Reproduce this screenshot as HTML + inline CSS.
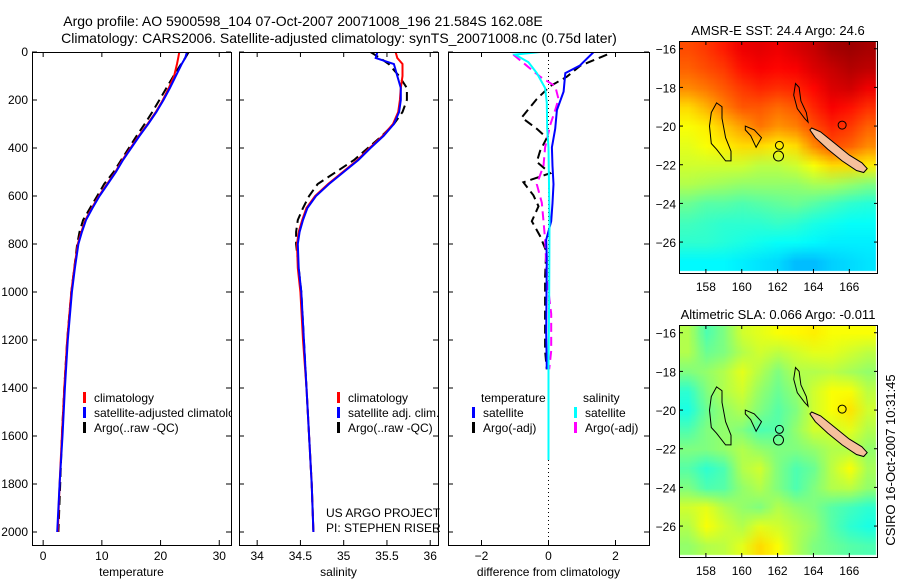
<!DOCTYPE html>
<html><head><meta charset="utf-8">
<style>
html,body{margin:0;padding:0;background:#fff;}
svg{display:block;font-family:"Liberation Sans",sans-serif;}
canvas{position:absolute;}
#wrap{position:relative;width:900px;height:580px;overflow:hidden;}
</style></head>
<body>
<div id="wrap">
<canvas id="sstCanvas" width="199" height="232" style="left:679px;top:41px;width:199px;height:232px"></canvas>
<canvas id="slaCanvas" width="199" height="232" style="left:679px;top:325px;width:199px;height:232px"></canvas>
<svg id="fig" width="900" height="580" style="position:absolute;left:0;top:0"></svg>
</div>
<script>
// ---- profile data ----
const depths = [0,25,50,100,150,200,250,300,350,400,450,500,550,600,650,700,750,800,900,1000,1200,1400,1600,1800,2000];
const tempClim = [23.2,23.0,22.8,22.3,21.4,20.4,19.2,17.8,16.3,14.9,13.5,12.3,10.9,9.5,8.3,7.2,6.5,5.9,5.3,4.8,4.1,3.6,3.2,2.8,2.5];
const tempSat  = [24.5,24.2,23.6,22.6,21.6,20.5,19.3,17.9,16.4,15.0,13.6,12.4,11.0,9.6,8.4,7.3,6.6,6.0,5.4,4.9,4.2,3.7,3.3,2.8,2.4];
const tempArgo = [24.8,24.2,23.5,22.2,21.0,19.8,18.6,17.3,15.9,14.6,13.3,12.0,10.4,9.2,8.0,6.8,6.2,5.8,5.3,4.8,4.1,3.6,3.2,2.9,2.6];
const salClim = [35.60,35.62,35.68,35.68,35.66,35.65,35.63,35.57,35.45,35.30,35.16,34.99,34.82,34.67,34.57,34.52,34.48,34.46,34.47,34.50,34.53,34.57,34.60,34.63,34.65];
const salSat  = [35.39,35.37,35.58,35.62,35.66,35.66,35.64,35.58,35.46,35.31,35.17,35.00,34.83,34.68,34.58,34.53,34.49,34.47,34.48,34.51,34.54,34.57,34.60,34.63,34.65];
const salArgo = [35.31,35.42,35.52,35.64,35.73,35.73,35.68,35.58,35.44,35.28,35.12,34.91,34.70,34.60,34.53,34.47,34.45,34.45,34.48,34.51,34.54,34.57,34.60,34.63,34.65];
// differences from climatology
const dTempDepth = [0,57,88,165,242,320,397,475,551,630,705,782,860,1000,1170,1322];
const dTempSat   = [1.35,0.93,0.5,0.45,0.25,0.2,0.1,0.12,0.15,0.12,0.08,-0.07,-0.05,-0.06,-0.07,-0.05];
const dTempArgoDepth = [11,57,103,142,196,273,320,358,412,458,505,543,597,643,705,767,829,937,1091,1245,1322];
const dTempArgo = [1.75,0.95,0.55,0.05,-0.35,-0.8,-0.35,-0.05,-0.25,-0.35,0.05,-0.75,-0.45,-0.3,-0.5,-0.25,-0.07,-0.1,-0.1,-0.1,-0.05];
const dSalArgoDepth = [11,57,103,142,196,242,304,397,474,551,628,705,782,937,1091,1245,1322];
const dSalArgo = [-1.05,-0.65,-0.25,0.2,0.3,0.2,0.05,-0.1,-0.15,-0.35,-0.2,-0.15,-0.1,-0.05,0.08,0.08,0.02];
const dSalSatDepth = [0,11,42,88,150,211,320,397,705,1000,1322,1700];
const dSalSat = [-0.25,-1.0,-0.6,-0.35,-0.1,-0.05,-0.04,0.0,0.03,0.02,0.0,0.0];
// ---- map data (normalised colour index 0..1, rows lat -16..-27, cols lon 157..167) ----
const mapLons = [157,158,159,160,161,162,163,164,165,166,167];
const mapLats = [-16,-17,-18,-19,-20,-21,-22,-23,-24,-25,-26,-27];
const sstVals = [
[0.80,0.82,0.85,0.89,0.90,0.89,0.91,0.93,0.96,0.97,0.96],
[0.78,0.80,0.82,0.86,0.88,0.87,0.88,0.91,0.93,0.95,0.94],
[0.74,0.76,0.79,0.82,0.84,0.83,0.84,0.87,0.91,0.92,0.89],
[0.66,0.70,0.75,0.79,0.79,0.77,0.79,0.84,0.88,0.86,0.83],
[0.62,0.64,0.68,0.72,0.76,0.73,0.75,0.80,0.84,0.82,0.78],
[0.60,0.62,0.64,0.66,0.66,0.64,0.66,0.74,0.80,0.78,0.74],
[0.58,0.58,0.58,0.58,0.56,0.56,0.58,0.62,0.66,0.66,0.64],
[0.55,0.54,0.53,0.52,0.52,0.52,0.52,0.54,0.54,0.52,0.50],
[0.48,0.46,0.46,0.45,0.46,0.47,0.48,0.46,0.44,0.42,0.41],
[0.44,0.43,0.42,0.42,0.42,0.43,0.42,0.40,0.39,0.38,0.38],
[0.42,0.42,0.41,0.40,0.39,0.38,0.38,0.37,0.36,0.36,0.36],
[0.37,0.37,0.37,0.36,0.35,0.34,0.31,0.31,0.33,0.34,0.35]];
const slaVals = [
[0.55,0.45,0.50,0.58,0.60,0.62,0.63,0.64,0.62,0.62,0.62],
[0.55,0.48,0.50,0.55,0.58,0.56,0.58,0.60,0.60,0.58,0.56],
[0.50,0.52,0.55,0.60,0.55,0.50,0.55,0.55,0.56,0.54,0.52],
[0.42,0.50,0.55,0.58,0.52,0.48,0.52,0.58,0.62,0.62,0.56],
[0.40,0.48,0.52,0.55,0.50,0.46,0.50,0.58,0.62,0.65,0.58],
[0.45,0.50,0.52,0.50,0.45,0.46,0.52,0.58,0.58,0.60,0.55],
[0.50,0.50,0.52,0.55,0.52,0.50,0.50,0.52,0.55,0.55,0.52],
[0.46,0.42,0.45,0.55,0.58,0.50,0.45,0.48,0.56,0.62,0.54],
[0.50,0.45,0.46,0.52,0.55,0.50,0.45,0.50,0.55,0.56,0.52],
[0.58,0.60,0.55,0.52,0.50,0.55,0.52,0.50,0.46,0.44,0.42],
[0.55,0.62,0.58,0.55,0.60,0.58,0.55,0.52,0.46,0.42,0.40],
[0.52,0.55,0.56,0.60,0.66,0.62,0.55,0.50,0.48,0.46,0.45]];
const tempTicks = [0,10,20,30];
const salTicks = [34,34.5,35,35.5,36];
const diffTicks = [-2,0,2];
const depthTicks = [0,200,400,600,800,1000,1200,1400,1600,1800,2000];
const lonTicks = [158,160,162,164,166];
const latTicks = [-16,-18,-20,-22,-24,-26];

const NS='http://www.w3.org/2000/svg';
const svg=document.getElementById('fig');
function el(tag,attrs,parent){const e=document.createElementNS(NS,tag);for(const k in attrs)e.setAttribute(k,attrs[k]);(parent||svg).appendChild(e);return e;}
function txt(s,x,y,anchor,size,parent){const t=el('text',{x:x,y:y,'text-anchor':anchor||'start','font-size':size||12,fill:'#000'},parent);t.textContent=s;return t;}

const yD=d=>52+d*0.24;
const panels=[
 {x0:32,x1:231,lo:-1.9,hi:32.0,ticks:tempTicks,label:'temperature',name:'temperature'},
 {x0:239,x1:438,lo:33.79,hi:36.09,ticks:salTicks,label:'salinity',name:'salinity'},
 {x0:448,x1:649,lo:-3,hi:3,ticks:diffTicks,label:'difference from climatology',name:'difference'}];
panels.forEach(p=>{p.sx=v=>p.x0+(v-p.lo)/(p.hi-p.lo)*(p.x1-p.x0);});

function line(p,ds,vs,color,dash,name){
  let d='';ds.forEach((dep,i)=>{if(vs[i]==null)return;d+=(d?'L':'M')+p.sx(vs[i]).toFixed(1)+','+yD(dep).toFixed(1);});
  const a={d:d,fill:'none',stroke:color,'stroke-width':2};if(dash)a['stroke-dasharray']=dash;
  const e=el('path',a,p.g);
  
  
}

panels.forEach((p,pi)=>{
  const g=el('g',{});
  
  
  p.g=g;
  const cp=el('clipPath',{id:'cp'+pi},g);el('rect',{x:p.x0,y:52,width:p.x1-p.x0,height:493},cp);
  p.clip=el('g',{'clip-path':'url(#cp'+pi+')'},g);
  el('rect',{x:p.x0+0.5,y:52.5,width:p.x1-p.x0,height:493,fill:'none',stroke:'#000','stroke-width':1},g);
  p.ticks.forEach(t=>{const x=p.sx(t);
    el('line',{x1:x,x2:x,y1:52,y2:57,stroke:'#000'},g);
    el('line',{x1:x,x2:x,y1:545,y2:540,stroke:'#000'},g);
    const lab=txt(String(t).replace('-','\u2212'),x,560,'middle',12,g);
    });
  depthTicks.forEach(d=>{const y=yD(d);
    el('line',{x1:p.x0,x2:p.x0+5,y1:y,y2:y,stroke:'#000'},g);
    el('line',{x1:p.x1,x2:p.x1-5,y1:y,y2:y,stroke:'#000'},g);
    if(pi==0){const lab=txt(String(d),28,y+4,'end',12,g);}});
  const xl=txt(p.label,(p.x0+p.x1)/2,576,'middle',12,g);
  
});
// series
let P=panels[0];P.g=P.clip;
line(P,depths,tempArgo,'#000','9,5','argo-temperature');
line(P,depths,tempClim,'#f00',null,'clim-temperature');
line(P,depths,tempSat,'#00f',null,'sat-temperature');
P=panels[1];P.g=P.clip;
line(P,depths,salArgo,'#000','9,5','argo-salinity');
line(P,depths,salClim,'#f00',null,'clim-salinity');
line(P,depths,salSat,'#00f',null,'sat-salinity');
P=panels[2];P.g=P.clip;
el('line',{x1:P.sx(0),x2:P.sx(0),y1:52,y2:545,stroke:'#000','stroke-dasharray':'1,3'},P.clip);
line(P,dTempArgoDepth,dTempArgo,'#000','9,5','argo-temp-diff');
line(P,dSalArgoDepth,dSalArgo,'#f0f','9,5','argo-sal-diff');
line(P,dTempDepth,dTempSat,'#00f',null,'sat-temp-diff');
line(P,dSalSatDepth,dSalSat,'#0ff',null,'sat-sal-diff');

// legends
function legend(x,y,color,label,parent,name){
  el('rect',{x:x,y:y-10,width:3,height:11,fill:color},parent);
  const t=txt(label,x+11,y,'start',12,parent);
  
}
let lg=el('g',{'clip-path':'url(#cp0)'});

legend(83,402,'#f00','climatology',lg,'legend-climatology');
legend(83,417,'#00f','satellite-adjusted climatology',lg,'legend-satellite-adjusted');
legend(83,432,'#000','Argo(..raw -QC)',lg,'legend-argo');
lg=el('g',{});

legend(337,402,'#f00','climatology',lg,'legend-climatology');
legend(337,417,'#00f','satellite adj. clim.',lg,'legend-satellite-adj');
legend(337,432,'#000','Argo(..raw -QC)',lg,'legend-argo');
let t1=txt('US ARGO PROJECT',326,517,'start',12);
t1=txt('PI: STEPHEN RISER',326,532,'start',12);
lg=el('g',{});

t1=txt('temperature',481,402,'start',12,lg);
legend(472,417,'#00f','satellite',lg,'legend-temp-satellite');
legend(472,432,'#000','Argo(-adj)',lg,'legend-temp-argo');
t1=txt('salinity',583,402,'start',12,lg);
legend(574,417,'#0ff','satellite',lg,'legend-sal-satellite');
legend(574,432,'#f0f','Argo(-adj)',lg,'legend-sal-argo');

// titles
t1=txt('Argo profile: AO 5900598_104 07-Oct-2007 20071008_196 21.584S 162.08E',303,26,'middle',14);

t1=txt('Climatology: CARS2006. Satellite-adjusted climatology: synTS_20071008.nc (0.75d later)',339,43,'middle',14);


// ---- maps ----
function jet(v){v=Math.max(0,Math.min(1,v));
  const r=Math.max(0,Math.min(1,1.5-Math.abs(4*v-3))),g=Math.max(0,Math.min(1,1.5-Math.abs(4*v-2))),b=Math.max(0,Math.min(1,1.5-Math.abs(4*v-1)));
  return [r*255,g*255,b*255];}
const mapLon0=156.5,mapLon1=167.6,mapLat0=-15.6,mapLat1=-27.6;
function drawHeat(id,vals){
  const small=document.createElement('canvas');small.width=mapLons.length;small.height=mapLats.length;
  const sc=small.getContext('2d');const img=sc.createImageData(small.width,small.height);
  vals.forEach((row,j)=>row.forEach((v,i)=>{const c=jet(v);const k=(j*small.width+i)*4;img.data[k]=c[0];img.data[k+1]=c[1];img.data[k+2]=c[2];img.data[k+3]=255;}));
  sc.putImageData(img,0,0);
  const cv=document.getElementById(id),ctx=cv.getContext('2d');ctx.imageSmoothingEnabled=true;
  const W=199,H=232;const px=l=>(l-mapLon0)/(mapLon1-mapLon0)*W, py=l=>(mapLat0-l)/(mapLat0-mapLat1)*H;
  const x0=px(mapLons[0]-0.5),x1=px(mapLons[mapLons.length-1]+0.5),y0=py(mapLats[0]+0.5),y1=py(mapLats[mapLats.length-1]-0.5);
  ctx.drawImage(small,x0,y0,x1-x0,y1-y0);
}
drawHeat('sstCanvas',sstVals);
drawHeat('slaCanvas',slaVals);

const maps=[{top:41,title:'AMSR-E SST: 24.4  Argo: 24.6',name:'sst-map'},{top:325,title:'Altimetric SLA: 0.066  Argo: -0.011',name:'sla-map'}];
const coastA=[[158.6,-18.8],[158.9,-19.0],[158.9,-19.6],[159.1,-20.6],[159.4,-21.3],[159.4,-21.8],[159.1,-21.8],[158.6,-21.2],[158.3,-20.9],[158.2,-20.0],[158.3,-19.3],[158.6,-18.8]];
const coastB=[[160.2,-20.0],[160.7,-20.2],[160.9,-20.4],[161.1,-20.6],[160.8,-21.1],[160.5,-20.5],[160.2,-20.2],[160.2,-20.0]];
const coastC=[[163.0,-17.8],[163.2,-18.0],[163.3,-18.7],[163.6,-19.3],[163.7,-19.8],[163.5,-19.6],[163.1,-19.1],[162.9,-18.4],[163.0,-17.8]];
const ncal=[[163.9,-20.1],[164.4,-20.3],[165.2,-20.9],[166.0,-21.5],[166.7,-21.9],[167.0,-22.2],[166.8,-22.4],[166.4,-22.3],[165.6,-21.8],[164.8,-21.2],[164.1,-20.6],[163.8,-20.2]];
maps.forEach((m,mi)=>{
  const g=el('g',{});
  
  const X=l=>679+(l-mapLon0)/(mapLon1-mapLon0)*199, Y=l=>m.top+(mapLat0-l)/(mapLat0-mapLat1)*232;
  const pth=pts=>pts.map((p,i)=>(i?'L':'M')+X(p[0]).toFixed(1)+','+Y(p[1]).toFixed(1)).join('')+'Z';
  [coastA,coastB,coastC].forEach(c=>el('path',{d:pth(c),fill:'none',stroke:'#000','stroke-width':1},g));
  el('circle',{cx:X(162.05),cy:Y(-21.55),r:5,fill:'none',stroke:'#000'},g);
  el('circle',{cx:X(162.1),cy:Y(-21.0),r:4,fill:'none',stroke:'#000'},g);
  el('circle',{cx:X(165.6),cy:Y(-19.95),r:4,fill:'none',stroke:'#000'},g);
  el('path',{d:pth(ncal),fill:'#f6c09c',stroke:'#000','stroke-width':1},g);
  el('rect',{x:679.5,y:m.top+0.5,width:198,height:232,fill:'none',stroke:'#000'},g);
  lonTicks.forEach(l=>{const x=X(l);el('line',{x1:x,x2:x,y1:m.top+232,y2:m.top+228,stroke:'#000'},g);el('line',{x1:x,x2:x,y1:m.top,y2:m.top+4,stroke:'#000'},g);
    const t=txt(String(l),x,m.top+250,'middle',12,g);});
  latTicks.forEach(l=>{const y=Y(l);el('line',{x1:679,x2:683,y1:y,y2:y,stroke:'#000'},g);el('line',{x1:878,x2:874,y1:y,y2:y,stroke:'#000'},g);
    const t=txt(String(l).replace('-','\u2212'),676,y+5,'end',12,g);});
  const t=txt(m.title,778,m.top-6,'middle',13,g);
});
t1=txt('CSIRO 16-Oct-2007 10:31:45',0,0,'middle',13);
t1.setAttribute('transform','translate(895,460) rotate(-90)');

</script>
</body></html>
